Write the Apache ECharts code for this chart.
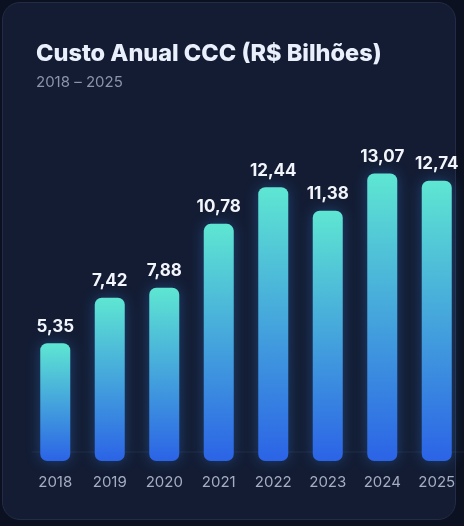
<!DOCTYPE html>
<html>
<head>
<meta charset="utf-8">
<script src="https://cdn.jsdelivr.net/npm/echarts@6/dist/echarts.min.js"></script>
<style>
  html, body { margin: 0; padding: 0; background: #0b1120; }
  #wrap { position: relative; width: 464px; height: 526px; overflow: hidden; }
  #card {
    position: absolute; left: 2px; top: 2px; width: 452px; height: 516px;
    background: #131c33; border: 1px solid #222c45; border-radius: 18px;
  }
  #main { position: absolute; left: 0; top: 0; width: 464px; height: 526px; }
</style>
</head>
<body>
<div id="wrap">
  <div id="card"></div>
  <div id="main"></div>
</div>
<script>
var years = ['2018', '2019', '2020', '2021', '2022', '2023', '2024', '2025'];
var custo = [5.35, 7.42, 7.88, 10.78, 12.44, 11.38, 13.07, 12.74];

var myChart = echarts.init(document.getElementById('main'));
var option = {
    backgroundColor: 'transparent',
    title: {
        text: 'Custo Anual CCC (R$ Bilhões)',
        subtext: '2018 – 2025',
        left: 31,
        top: 37,
        itemGap: 9,
        textStyle: {
            color: '#eaf0fb',
            fontSize: 23.5,
            fontWeight: 800,
            fontFamily: 'Inter'
        },
        subtextStyle: {
            color: '#8a95ad',
            fontSize: 15,
            fontFamily: 'Inter'
        }
    },
    // faint baseline behind the bars
    graphic: [{
        type: 'line',
        z: -1,
        shape: { x1: 32, y1: 452, x2: 464, y2: 452 },
        style: { stroke: 'rgba(150,170,210,0.10)', lineWidth: 1 }
    }],
    grid: { left: 28, right: 0, top: 153, bottom: 65 },
    xAxis: {
        type: 'category',
        data: years,
        axisLine: { show: false },
        axisTick: { show: false },
        axisLabel: {
            color: '#a3adc3',
            fontSize: 15,
            fontFamily: 'Inter',
            margin: 14
        }
    },
    yAxis: {
        type: 'value',
        min: 0,
        max: 14,
        show: false
    },
    series: [{
        type: 'bar',
        data: custo,
        barWidth: 30,
        itemStyle: {
            borderRadius: 7,
            color: new echarts.graphic.LinearGradient(0, 0, 0, 1, [
                { offset: 0, color: '#5ee6d2' },
                { offset: 1, color: '#2b63e6' }
            ]),
            shadowColor: 'rgba(56, 140, 240, 0.35)',
            shadowBlur: 14
        },
        label: {
            show: true,
            position: 'top',
            distance: 8,
            color: '#f2f5fb',
            fontSize: 17,
            fontWeight: 'bold',
            fontFamily: 'Inter',
            formatter: function (p) {
                return p.value.toFixed(2).replace('.', ',');
            }
        }
    }]
};
myChart.setOption(option);
</script>
</body>
</html>
